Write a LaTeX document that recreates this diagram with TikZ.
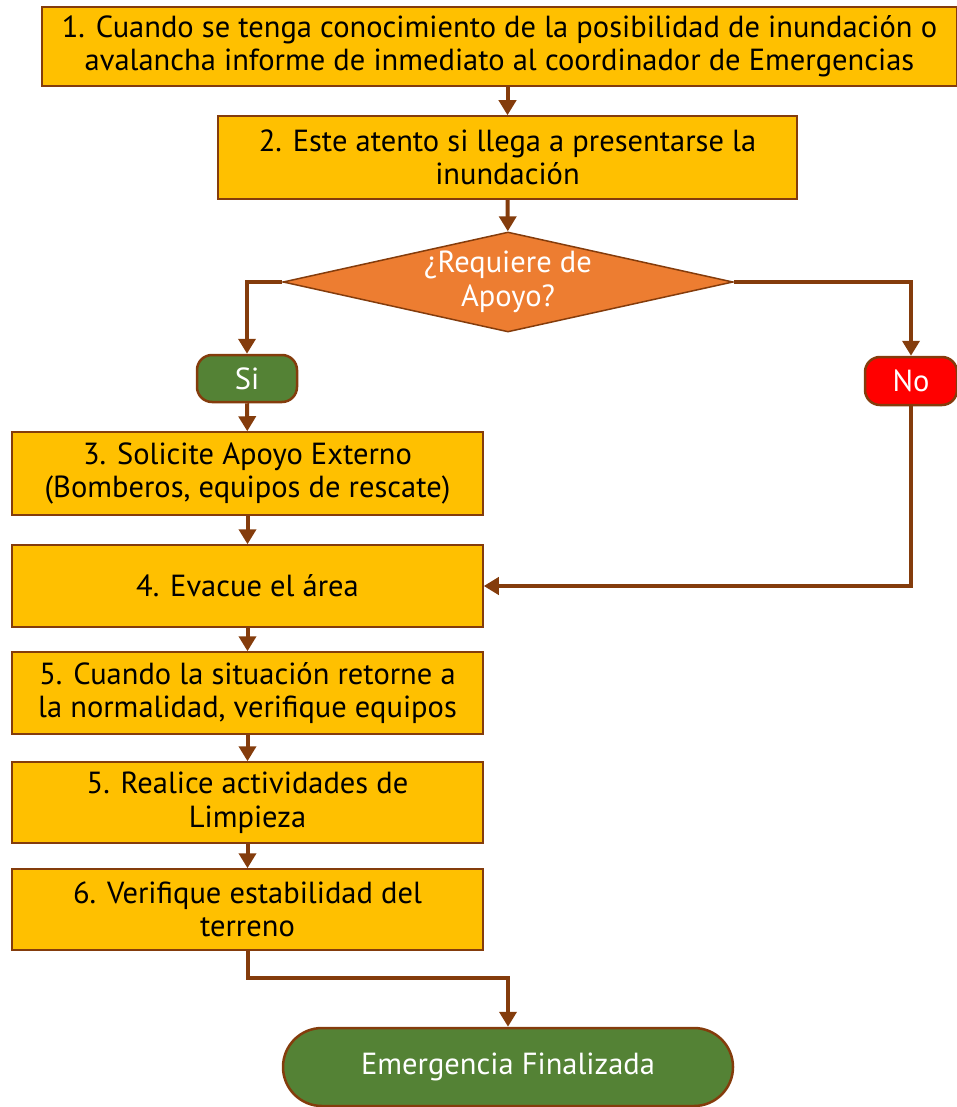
\documentclass[tikz,border=0pt]{standalone}
\usepackage{fontspec}
\setmainfont{PT Sans}
\usepackage{tikz}
\usetikzlibrary{shapes.geometric,arrows.meta,positioning}
\definecolor{flowBrown}{RGB}{132,60,12}
\definecolor{flowGold}{RGB}{255,192,0}
\definecolor{flowOrange}{RGB}{237,125,49}
\definecolor{flowGreen}{RGB}{84,130,53}
\definecolor{flowRed}{RGB}{255,0,0}

\begin{document}
\begin{tikzpicture}[x=1pt,y=-1pt,
  stepbox/.style={draw=flowBrown,line width=1.5pt,fill=flowGold,align=center,
    inner sep=2pt,font=\fontsize{30.5}{33.5}\selectfont},
  wide/.style={minimum width=471pt},
  pill/.style={draw=flowBrown,line width=2.5pt,text=white,align=center,
    rounded corners=15pt,font=\fontsize{30.5}{33.5}\selectfont},
  link/.style={flowBrown,line width=4pt,-{Triangle[length=15pt,width=17pt]}}]
  \useasboundingbox (0,0) rectangle (957,1107);
  % first two steps
  \node[stepbox,minimum width=915pt,minimum height=79pt] (paso1) at (499.5,46.5)
    {1. Cuando se tenga conocimiento de la posibilidad de inundación o\\avalancha informe de inmediato al coordinador de Emergencias};
  \node[stepbox,minimum width=579pt,minimum height=83pt] (paso2) at (507.5,157.5)
    {2. Este atento si llega a presentarse la\\inundación};
  % decision
  \node[diamond,draw=flowBrown,line width=1.5pt,fill=flowOrange,text=white,aspect=4.5,
    inner sep=0pt,minimum width=450pt,minimum height=100pt,align=center,
    font=\fontsize{30.5}{33.5}\selectfont] (decide) at (508,282) {¿Requiere de\\Apoyo?};
  \node[pill,fill=flowGreen,minimum width=100pt,minimum height=47pt] (si) at (247,378.5) {Si};
  \node[pill,fill=flowRed,minimum width=92pt,minimum height=48pt] (no) at (911,381) {No};
  % left column
  \node[stepbox,wide,minimum height=83pt] (paso3) at (247.5,473.5)
    {3. Solicite Apoyo Externo\\(Bomberos, equipos de rescate)};
  \node[stepbox,wide,minimum height=82pt] (paso4) at (247.5,586) {4. Evacue el área};
  \node[stepbox,wide,minimum height=82pt] (paso5) at (247.5,693)
    {5. Cuando la situación retorne a\\la normalidad, verifique equipos};
  \node[stepbox,wide,minimum height=81pt] (limpieza) at (247.5,802.5)
    {5. Realice actividades de\\Limpieza};
  \node[stepbox,wide,minimum height=81pt] (paso6) at (247.5,909.5)
    {6. Verifique estabilidad del\\terreno};
  \node[pill,fill=flowGreen,rounded corners=39pt,minimum width=450pt,minimum height=78pt]
    (fin) at (508,1067) {Emergencia Finalizada};
  \coordinate (codo) at (508,978);
  % connectors
  \draw[link] (paso2.north |- paso1.south) -- (paso2.north);
  \draw[link] (paso2) -- (decide);
  \draw[link] (decide.west) -| (si);
  \draw[link] (decide.east) -| (no);
  \draw[link] (si) -- (paso3);
  \draw[link] (paso3) -- (paso4);
  \draw[link] (no) |- (paso4);
  \draw[link] (paso4) -- (paso5);
  \draw[link] (paso5) -- (limpieza);
  \draw[link] (limpieza) -- (paso6);
  \draw[link] (paso6) |- (codo) -- (fin);
\end{tikzpicture}
\end{document}
